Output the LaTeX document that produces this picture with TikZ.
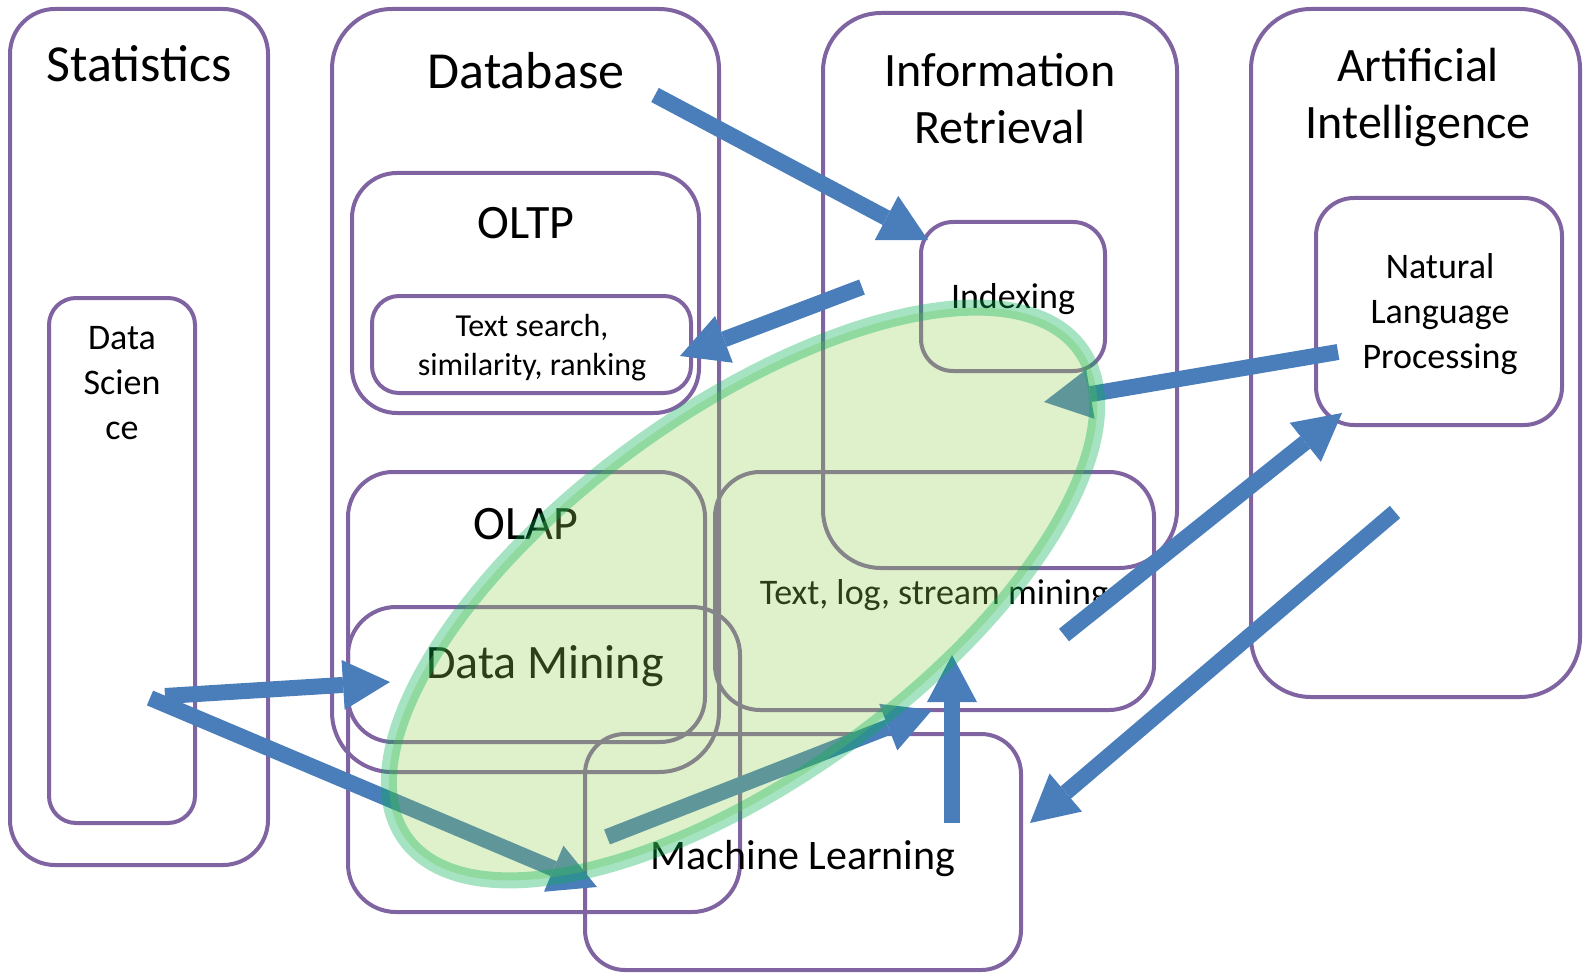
\documentclass[tikz,border=0pt]{standalone}
\usepackage{fontspec}
\setmainfont{Carlito}
\usetikzlibrary{arrows.meta}

\definecolor{boxpurple}{RGB}{128,100,162}
\definecolor{arrowblue}{RGB}{74,126,187}
\definecolor{blobfill}{RGB}{146,208,80}
\definecolor{blobline}{RGB}{0,176,80}

\tikzset{
  area/.style={draw=boxpurple, line width=2pt, rounded corners=#1},
  area/.default=22.5pt,
  flow/.style={draw=arrowblue, line width=8pt,
    -{Triangle[length=23.5pt, width=25pt, line width=0pt, fill=arrowblue]}},
  titletext/.style={font=\fontsize{26}{31}\selectfont},
  headtext/.style={font=\fontsize{24}{28.5}\selectfont, align=center},
  mltext/.style={font=\fontsize{21}{25}\selectfont},
  bodytext/.style={font=\fontsize{18}{22.5}\selectfont, align=center},
  smalltext/.style={font=\fontsize{16}{19.5}\selectfont, align=center}
}

\begin{document}
\begin{tikzpicture}[x=0.5pt, y=-0.5pt]
	\useasboundingbox (0,0) rectangle (1583,973);

	% Statistics
	\draw[area] (10,9) rectangle (268,865);
	\draw[area=13.5pt] (49,298) rectangle (195,823);
	\node[titletext] (stat) at (139,64) {Statistics};
	\node[bodytext] (ds) at (122,383) {Data\\Scien\\ce};

	% Database
	\draw[area=30pt] (332,9) rectangle (719,772);
	\draw[area] (352,173) rectangle (699,413);
	\draw[area=13.5pt] (372,296) rectangle (691,393);
	\draw[area] (348,472) rectangle (705,742);
	\draw[area=24pt] (348,607) rectangle (740,912);
	\node[titletext] (db) at (526,71) {Database};
	\node[headtext] (oltp) at (526,223) {OLTP};
	\node[smalltext] (ts) at (532,348) {Text search,\\similarity, ranking};
	\node[headtext] (olap) at (526,524) {OLAP};
	\node[headtext] (dm) at (545,666) {Data Mining};

	% Information Retrieval
	\draw[area=29pt] (823,13) rectangle (1177,568);
	\draw[area=16pt] (921,222) rectangle (1105,371);
	\draw[area] (715,472) rectangle (1154,710);
	\node[headtext] (ir) at (1000,99) {Information\\Retrieval};
	\node[bodytext] (idx) at (1013,299) {Indexing};
	\node[bodytext] (tl) at (934,595) {Text, log, stream mining};

	% Artificial Intelligence
	\draw[area=30pt] (1251,9) rectangle (1580,697);
	\draw[area=19pt] (1316,198) rectangle (1562,425);
	\node[headtext] (ai) at (1418,97) {Artificial\\Intelligence};
	\node[bodytext] (nlp) at (1440,314) {Natural\\Language\\Processing};

	% Machine Learning
	\draw[area=20pt] (585,734) rectangle (1021,970);
	\node[mltext] (ml) at (803,859) {Machine Learning};

	% arrow ends
	\coordinate (dbout) at (655,95);
	\coordinate (idxin) at (928,240);
	\coordinate (irout) at (862,287);
	\coordinate (tsin) at (680,356);
	\coordinate (nlpout) at (1338,352);
	\coordinate (idxin2) at (1044,402);
	\coordinate (tlout) at (1064,635);
	\coordinate (nlpin) at (1342,413);
	\coordinate (aiout) at (1395,512);
	\coordinate (mlin) at (1030,823);
	\coordinate (mlup) at (952,823);
	\coordinate (tlin) at (952,655);
	\coordinate (mlout) at (607,837);
	\coordinate (tlin2) at (932,710);
	\coordinate (dsout) at (165,696);
	\coordinate (dmin) at (390,682);
	\coordinate (dsout2) at (150,698);
	\coordinate (mlin2) at (597,887);

	% Arrows
	\draw[flow] (dbout) -- (idxin);
	\draw[flow] (irout) -- (tsin);
	\draw[flow] (nlpout) -- (idxin2);
	\draw[flow] (tlout) -- (nlpin);
	\draw[flow] (aiout) -- (mlin);
	\draw[flow] (mlup) -- (tlin);
	\draw[flow] (mlout) -- (tlin2);
	\draw[flow] (dsout) -- (dmin);
	\draw[flow] (dsout2) -- (mlin2);

	% Data mining blob
	\draw[draw=blobline, draw opacity=0.35, fill=blobfill, fill opacity=0.3,
		line width=8pt, shift={(743,594)}, rotate=36]
		(0,0) ellipse [x radius=208.5pt, y radius=91.5pt];
\end{tikzpicture}
\end{document}
